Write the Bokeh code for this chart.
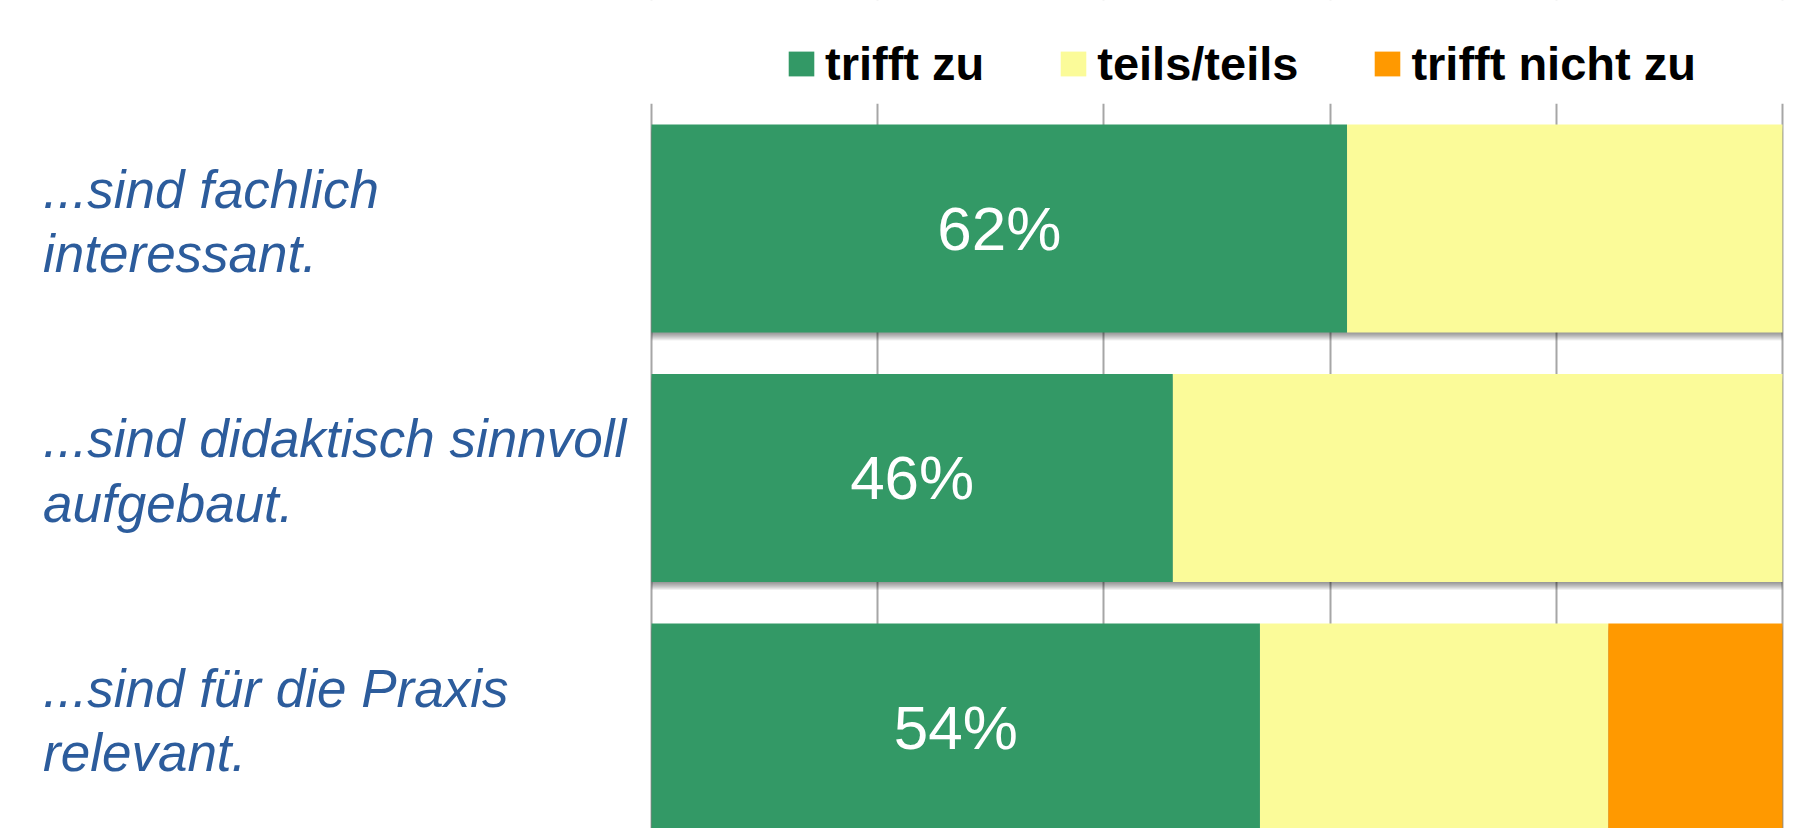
from bokeh.plotting import figure
from bokeh.models import Range1d, FixedTicker, Legend, LegendItem, ColumnDataSource, BoxAnnotation
from bokeh.core.properties import value
from bokeh.transform import dodge
from bokeh.embed import file_html
from bokeh.resources import INLINE

# ---- data (shares in %) ----
categories = [
    "...sind fachlich\ninteressant.",
    "...sind didaktisch sinnvoll\naufgebaut.",
    "...sind für die Praxis\nrelevant.",
]
trifft_zu = [61.5, 46.1, 53.8]
teils_teils = [38.5, 53.9, 30.8]
trifft_nicht_zu = [0.0, 0.0, 15.4]
series_names = ["trifft zu", "teils/teils", "trifft nicht zu"]
series_colors = ["#339966", "#FBFB99", "#FF9900"]
grid_ticks = [0, 20, 40, 60, 80, 100]

n = len(categories)
ypos = [n - 1 - i for i in range(n)]
source = ColumnDataSource(dict(
    y=ypos,
    cat=categories,
    zu=trifft_zu,
    teils=teils_teils,
    nicht=trifft_nicht_zu,
    total=[a + b + c for a, b, c in zip(trifft_zu, teils_teils, trifft_nicht_zu)],
    mid=[v / 2 for v in trifft_zu],
    pct=[f"{round(v)}%" for v in trifft_zu],
))

BAR_H = 0.834
PLOT_TOP = n - 0.5  # gridlines stop here; legend sits above

p = figure(
    width=1803, height=828,
    x_range=Range1d(-57.56, 101.86), y_range=Range1d(-0.405, 2.914),
    x_axis_location=None, y_axis_location=None,
    output_backend="svg", toolbar_location=None,
    min_border_left=0, min_border_right=0, min_border_top=0, min_border_bottom=0,
)
p.outline_line_color = None
p.background_fill_color = "white"
p.xgrid.ticker = FixedTicker(ticks=grid_ticks)
p.xgrid.bounds = (0, 100)
p.xgrid.grid_line_color = "#A6A6A6"
p.xgrid.grid_line_width = 2
p.ygrid.visible = False

# white band above the plotting area (legend region), hides grid lines there
p.add_layout(BoxAnnotation(bottom=PLOT_TOP, top=PLOT_TOP + 5, fill_color="white",
                           fill_alpha=1.0, line_color=None))

# soft shadow under the bars
for k in range(1, 9):
    p.hbar(y=dodge("y", -0.004 * k, range=p.y_range), left=0, right="total", height=BAR_H,
           fill_color="black", fill_alpha=0.06, line_color=None, source=source)

renderers = p.hbar_stack(["zu", "teils", "nicht"], y="y", height=BAR_H,
                         fill_color=series_colors, line_color=None, source=source)

# percentage labels in green segments
p.text(x="mid", y="y", text="pct", source=source, text_align="center", text_baseline="middle",
       text_color="white", text_font=value("Liberation Sans"), text_font_size="62px")

# category labels
p.text(x=-53.8, y="y", text="cat", source=source, text_align="left", text_baseline="middle",
       text_color="#2C5C9C", text_font=value("Liberation Sans"), text_font_style="italic",
       text_font_size="53px", text_line_height=1.1, y_offset=-7)

legend = Legend(
    items=[LegendItem(label=nm, renderers=[r]) for nm, r in zip(series_names, renderers)],
    orientation="horizontal", location=(785, 737),
    glyph_width=32, glyph_height=31, label_standoff=8, spacing=73,
    padding=0, margin=0, border_line_color=None, background_fill_alpha=0,
    label_text_font="Liberation Sans", label_text_font_style="bold",
    label_text_font_size="47px", label_text_color="black",
)
p.add_layout(legend)

open("out.html", "w").write(file_html(p, INLINE))
